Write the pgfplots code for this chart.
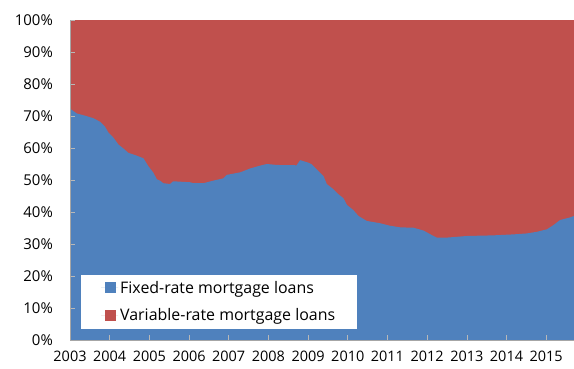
\documentclass[border=0pt]{standalone}
\usepackage{pgfplots}
\pgfplotsset{compat=1.18}
\usepackage{fontspec}
\setmainfont{Open Sans}
\definecolor{fixblue}{HTML}{4F81BD}
\definecolor{varred}{HTML}{C0504D}
\definecolor{axgray}{HTML}{A6A6A6}
\begin{document}
\begin{tikzpicture}
\useasboundingbox (-70bp,-29bp) rectangle (504bp,340bp);
\begin{axis}[
  at={(0,0)}, anchor=south west,
  scale only axis, width=504bp, height=320bp,
  xmin=2003, xmax=2015.7, ymin=0, ymax=100,
  axis lines*=left,
  axis line style={color=axgray, line width=0.8pt},
  tick align=inside,
  major tick length=5bp,
  tick style={color=axgray!80, line width=0.6pt},
  xtick={2003,2004,...,2015},
  xticklabels={2003,2004,2005,2006,2007,2008,2009,2010,2011,2012,2013,2014,2015},
  ytick={0,10,...,100},
  yticklabels={0\%,10\%,20\%,30\%,40\%,50\%,60\%,70\%,80\%,90\%,100\%},
  yticklabel style={font=\fontsize{15}{17}\selectfont, inner sep=0pt, anchor=east, xshift=-17bp},
  xticklabel style={font=\fontsize{14.5}{16}\selectfont, inner sep=0pt, anchor=north, yshift=-11bp},
  axis on top,
  reverse legend,
  legend cell align=left,
  legend style={at={(11bp,11bp)}, anchor=south west, draw=none, fill=white,
    font=\fontsize{16}{18}\selectfont,
    inner xsep=20bp, inner ysep=4.5bp, row sep=10bp,
    nodes={inner sep=2bp}},
  legend image code/.code={\path (0bp,0bp) -- (17bp,0bp);\fill[#1] (4bp,-5.5bp) rectangle (15bp,5.5bp);},
]
\addplot[fill=varred, draw=none] coordinates {(2003,100) (2015.7,100)} \closedcycle;
\addlegendentry{Variable-rate mortgage loans}
\addplot[fill=fixblue, draw=none] coordinates {
(2003.00,72.3) (2003.17,70.8) (2003.38,70.1) (2003.59,69.3) (2003.76,68.2)
(2003.88,66.7) (2003.97,64.8) (2004.09,63.3) (2004.22,61.1) (2004.34,59.9)
(2004.47,58.5) (2004.64,57.8) (2004.85,56.8) (2004.97,54.4) (2005.10,52.3)
(2005.19,50.2) (2005.27,49.8) (2005.35,49.0) (2005.52,48.75) (2005.60,49.6)
(2006.02,49.3) (2006.11,49.0) (2006.36,49.0) (2006.61,49.8) (2006.86,50.5)
(2006.95,51.6) (2007.29,52.4) (2007.54,53.6) (2007.79,54.5) (2007.96,55.0)
(2008.21,54.7) (2008.71,54.6) (2008.80,56.2) (2009.01,55.4) (2009.09,54.9)
(2009.22,53.3) (2009.39,51.2) (2009.47,48.75) (2009.64,47.1) (2009.76,45.6)
(2009.89,44.3) (2009.98,42.2) (2010.14,40.6) (2010.27,38.75) (2010.48,37.2)
(2010.81,36.5) (2011.07,35.7) (2011.32,35.2) (2011.65,35.1) (2011.91,34.2)
(2012.07,33.1) (2012.24,32.0) (2012.50,32.0) (2013.00,32.5) (2013.67,32.7)
(2014.17,33.0) (2014.51,33.3) (2014.76,33.8) (2015.02,34.6) (2015.18,35.9)
(2015.35,37.5) (2015.60,38.3) (2015.70,38.75)
} \closedcycle;
\addlegendentry{Fixed-rate mortgage loans}
\end{axis}
\end{tikzpicture}
\end{document}
